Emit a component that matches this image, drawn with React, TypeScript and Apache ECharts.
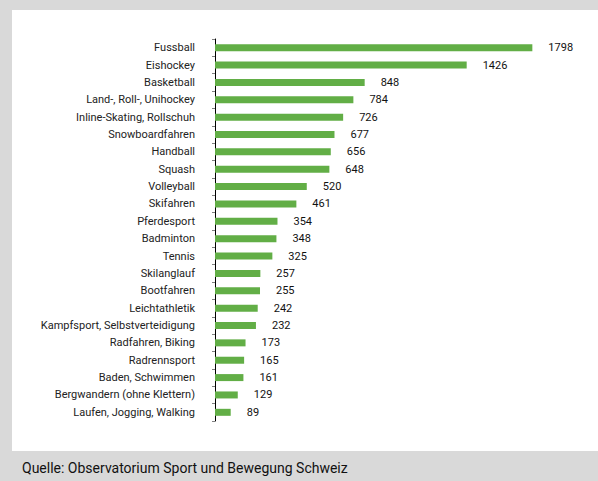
import React, { useEffect, useRef } from "react";
import * as echarts from "echarts";

const categories = [
  "Fussball",
  "Eishockey",
  "Basketball",
  "Land-, Roll-, Unihockey",
  "Inline-Skating, Rollschuh",
  "Snowboardfahren",
  "Handball",
  "Squash",
  "Volleyball",
  "Skifahren",
  "Pferdesport",
  "Badminton",
  "Tennis",
  "Skilanglauf",
  "Bootfahren",
  "Leichtathletik",
  "Kampfsport, Selbstverteidigung",
  "Radfahren, Biking",
  "Radrennsport",
  "Baden, Schwimmen",
  "Bergwandern (ohne Klettern)",
  "Laufen, Jogging, Walking",
];

const values = [
  1798, 1426, 848, 784, 726, 677, 656, 648, 520, 461, 354, 348, 325, 257, 255,
  242, 232, 173, 165, 161, 129, 89,
];

const sourceText = "Quelle: Observatorium Sport und Bewegung Schweiz";

export default function App() {
  const ref = useRef<HTMLDivElement>(null);
  useEffect(() => {
    if (!ref.current) return;
    const chart = echarts.init(ref.current, undefined, { renderer: "svg" });
    const font = "Roboto, 'Noto Sans', sans-serif";
    chart.setOption({
      animation: false,
      backgroundColor: "#d9d9d9",
      textStyle: { fontFamily: font },
      graphic: [
        {
          type: "rect",
          z: -10,
          shape: { x: 12, y: 10, width: 586, height: 441 },
          style: { fill: "#ffffff" },
          silent: true,
        },
        {
          type: "text",
          x: 22,
          y: 468,
          style: {
            text: sourceText,
            fontSize: 14,
            fontFamily: font,
            fill: "#111111",
            textVerticalAlign: "middle",
          },
        },
      ],
      grid: { left: 215, top: 39, width: 353, height: 382, containLabel: false },
      xAxis: {
        type: "value",
        min: 0,
        max: 2000,
        show: false,
      },
      yAxis: {
        type: "category",
        inverse: true,
        data: categories,
        axisLine: { show: true, lineStyle: { color: "#000000", width: 1 } },
        axisTick: {
          show: true,
          inside: false,
          length: 3,
          alignWithLabel: false,
          lineStyle: { color: "#808080" },
        },
        axisLabel: {
          margin: 20,
          fontSize: 11,
          color: "#222222",
          fontFamily: font,
        },
      },
      series: [
        {
          type: "bar",
          data: values,
          barWidth: 7,
          itemStyle: { color: "#62ae46" },
          label: {
            show: true,
            position: "right",
            distance: 16,
            fontSize: 11,
            color: "#111111",
            fontFamily: font,
          },
        },
      ],
    });
    return () => chart.dispose();
  }, []);
  return (
    <div
      ref={ref}
      style={{ position: "fixed", left: 0, top: 0, width: 598, height: 481 }}
    />
  );
}
